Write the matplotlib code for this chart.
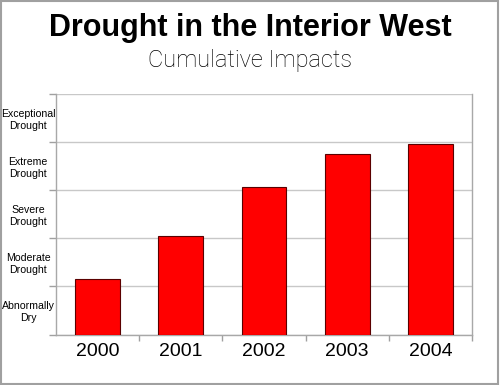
import matplotlib
matplotlib.use("Agg")
import matplotlib.pyplot as plt
from matplotlib.patches import Rectangle

years = ["2000", "2001", "2002", "2003", "2004"]
values = [1.16, 2.05, 3.07, 3.76, 3.97]
levels = ["Abnormally\nDry", "Moderate\nDrought", "Severe\nDrought",
          "Extreme\nDrought", "Exceptional\nDrought"]

plt.rcParams['font.family'] = ['Liberation Sans', 'DejaVu Sans']
W, H = 500, 385
fig = plt.figure(figsize=(5, 3.85), dpi=100)
ax = fig.add_axes([56 / W, 1 - 334.5 / H, 416 / W, 240.5 / H])

x = list(range(len(years)))
ax.bar(x, values, width=0.54, color="#ff0000", edgecolor="#5a0000", linewidth=0.8, zorder=3)
ax.set_xlim(-0.5, len(years) - 0.5)
ax.set_ylim(0, 5)

ax.set_yticks(range(0, 6))
ax.set_yticklabels([])
ax.set_yticks([i + 0.5 for i in range(5)], minor=True)
ax.set_yticklabels(levels, minor=True, fontsize=7.6, multialignment="center", ha="center")
ax.tick_params(axis="y", which="minor", length=0, pad=20)
ax.tick_params(axis="y", which="major", length=5, color="#a0a0a0", width=1)
ax.grid(axis="y", color="#c8c8c8", linewidth=1, zorder=0)

ax.set_xticks(x)
ax.set_xticklabels(years, fontsize=14)
ax.set_xticks([i + 0.5 for i in range(len(years))], minor=True)
ax.tick_params(axis="x", which="major", length=0, pad=6)
ax.tick_params(axis="x", which="minor", length=4, color="#a0a0a0", width=1, direction="out")

for s in ["left", "bottom", "right"]:
    ax.spines[s].set_color("#a8a8a8")
    ax.spines[s].set_linewidth(1)
ax.spines["top"].set_visible(False)

fig.text(0.5, 1 - 28 / H, "Drought in the Interior West", ha="center", va="center",
         fontsize=22, fontweight="bold")
fig.text(0.5, 1 - 61 / H, "Cumulative Impacts", ha="center", va="center",
         fontsize=17, family=["Roboto", "Liberation Sans"], fontweight="light")

fig.patches.append(Rectangle((0.002, 0.003), 0.994, 0.994, transform=fig.transFigure,
                             fill=False, edgecolor="#a0a0a0", linewidth=1.5))

fig.savefig("out.png", dpi=100)
